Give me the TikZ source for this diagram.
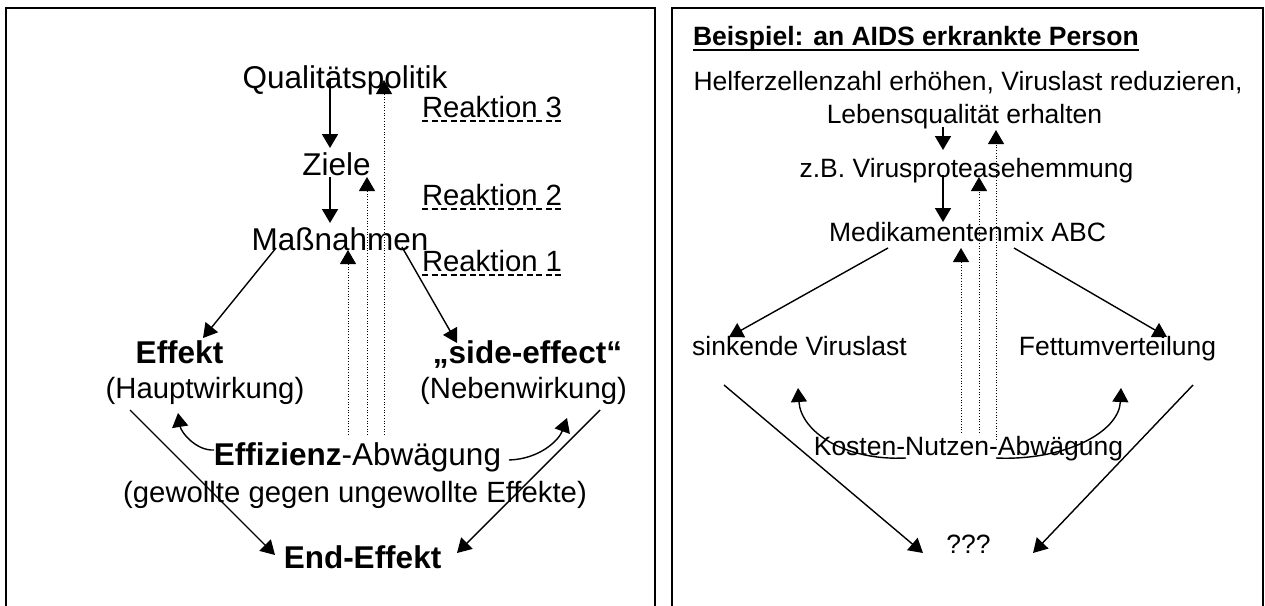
\documentclass[tikz,border=0pt]{standalone}
\usepackage{fontspec}
\setmainfont{Liberation Sans}
\usetikzlibrary{arrows.meta,calc}
\begin{document}
\begin{tikzpicture}[x=1pt,y=-1pt,
  txt/.style={inner sep=0pt, outer sep=0pt, anchor=base},
  big/.style={txt, font=\fontsize{31.5}{36}\selectfont},
  bigb/.style={txt, font=\fontsize{31.5}{36}\selectfont\bfseries},
  small/.style={txt, font=\fontsize{29.3}{34}\selectfont},
  rtxt/.style={txt, font=\fontsize{26.5}{31}\selectfont},
  rtxtb/.style={txt, font=\fontsize{26.5}{31}\selectfont\bfseries},
  tip/.style={-{Triangle[length=14pt,width=16pt]}},
  arr/.style={line width=1.8pt, tip},
  arrd/.style={line width=1.4pt, tip},
  darr/.style={line width=1pt, dash pattern=on 1pt off 1.7pt, tip},
  panel/.style={line width=2pt},
  uline/.style={line width=2pt, dash pattern=on 6pt off 3.5pt},
]
\useasboundingbox (0,0) rectangle (1265,605);

% panels
\draw[panel] (6,606) -- (6,8) -- (655,8) -- (655,606);
\draw[panel] (672,606) -- (672,8) -- (1263,8) -- (1263,606);

% ---------------- left panel ----------------
\node[big] (qp) at (345,88) {Qualitätspolitik};
\node[big] (ziele) at (336.5,175) {Ziele};
\node[big] (mass) at (340,250) {Maßnahmen};
\node[small,anchor=base west] (r3) at (422,117) {Reaktion 3};
\node[small,anchor=base west] (r2) at (422,205) {Reaktion 2};
\node[small,anchor=base west] (r1) at (422,271) {Reaktion 1};
\node[bigb] (effekt) at (179.5,363) {Effekt};
\node[small] (haupt) at (205,398) {(Hauptwirkung)};
\node[bigb] (side) at (527.5,363) {„side-effect“};
\node[small] (neben) at (523.5,398) {(Nebenwirkung)};
\node[big] (effiz) at (357.5,465) {\textbf{Effizienz}-Abwägung};
\node[small] (gew) at (355,502) {(gewollte gegen ungewollte Effekte)};
\node[bigb] (endeff) at (362.5,568) {End-Effekt};

\draw[uline] ($(r3.base west)+(0,4)$) -- ($(r3.base east)+(0,4)$);
\draw[uline] ($(r2.base west)+(0,4)$) -- ($(r2.base east)+(0,4)$);
\draw[uline] ($(r1.base west)+(0,4)$) -- ($(r1.base east)+(0,4)$);

\draw[arr] ($(qp.base)+(-15,-10)$) -- ($(ziele.base)+(-6.5,-27)$);
\draw[arr] ($(ziele.base)+(-6.5,2)$) -- ($(mass.base)+(-10,-27)$);

\draw[darr] ($(effiz.base)+(-9.5,-30)$) -- ($(mass.base)+(8,0)$);
\draw[darr] ($(effiz.base)+(9.5,-30)$) -- ($(ziele.base)+(30.5,2)$);
\draw[darr] ($(effiz.base)+(26.5,-30)$) -- ($(qp.base)+(39,-8)$);

\draw[arrd] ($(mass.base)+(-64,-2)$) -- ($(effekt.base)+(23.5,-25)$);
\draw[arrd] ($(mass.base)+(62,-3)$) -- ($(side.base)+(-70.5,-20)$);
\draw[arrd] ($(haupt.base)+(-75,12)$) -- ($(endeff.base)+(-87.5,-13)$);
\draw[arrd] ($(neben.base)+(76.5,12)$) -- ($(endeff.base)+(94.5,-15)$);

\draw[arrd] ($(effiz.base)+(-143.5,-15)$) .. controls (196,451) and (181,432) .. ($(haupt.base)+(-27,15)$);
\draw[arrd] ($(effiz.base)+(151.5,-5)$) .. controls (540,459) and (559,440) .. ($(neben.base)+(43.5,20)$);

% ---------------- right panel ----------------
\node[rtxtb,anchor=base west] (title) at (693,45) {Beispiel: an AIDS erkrankte Person};
\draw[line width=2pt] ($(title.base west)+(0,5)$) -- ($(title.base east)+(0,5)$);
\node[rtxt] (goal1) at (968,90) {Helferzellenzahl erhöhen, Viruslast reduzieren,};
\node[rtxt] (goal2) at (964.5,123) {Lebensqualität erhalten};
\node[rtxt] (zb) at (966.5,177) {z.B. Virusproteasehemmung};
\node[rtxt] (med) at (967.5,241) {Medikamentenmix ABC};
\node[rtxt] (sink) at (799.5,355) {sinkende Viruslast};
\node[rtxt] (fett) at (1117.5,355) {Fettumverteilung};
\node[rtxt] (kosten) at (968.5,455) {Kosten-Nutzen-Abwägung};
\node[rtxt] (qqq) at (968.5,553) {???};

\draw[arr] ($(goal2.base)+(-21.5,4)$) -- ($(zb.base)+(-23.5,-27)$);
\draw[arr] ($(zb.base)+(-23.5,-2)$) -- ($(med.base)+(-24.5,-19)$);

\draw[darr] ($(kosten.base)+(-7.5,-22)$) -- ($(med.base)+(-6.5,7)$);
\draw[darr] ($(kosten.base)+(10.5,-22)$) -- ($(zb.base)+(12.5,0)$);
\draw[darr] ($(kosten.base)+(27.5,-15)$) -- ($(goal2.base)+(31.5,7)$);

\draw[arrd] ($(med.base)+(-79.5,7)$) -- ($(sink.base)+(-70.5,-18)$);
\draw[arrd] ($(med.base)+(46.5,7)$) -- ($(fett.base)+(49.5,-18)$);
\draw[arrd] ($(sink.base)+(-75.5,30)$) -- ($(qqq.base)+(-45.5,0)$);
\draw[arrd] ($(fett.base)+(75.5,30)$) -- ($(qqq.base)+(64.5,0)$);

\draw[arrd] ($(kosten.base)+(-62.5,3)$) .. controls (845,461) and (801,432) .. ($(sink.base)+(-1.5,33)$);
\draw[arrd] ($(kosten.base)+(27.5,3)$) .. controls (1065,461) and (1119,432) .. ($(fett.base)+(3.5,33)$);
\end{tikzpicture}
\end{document}
